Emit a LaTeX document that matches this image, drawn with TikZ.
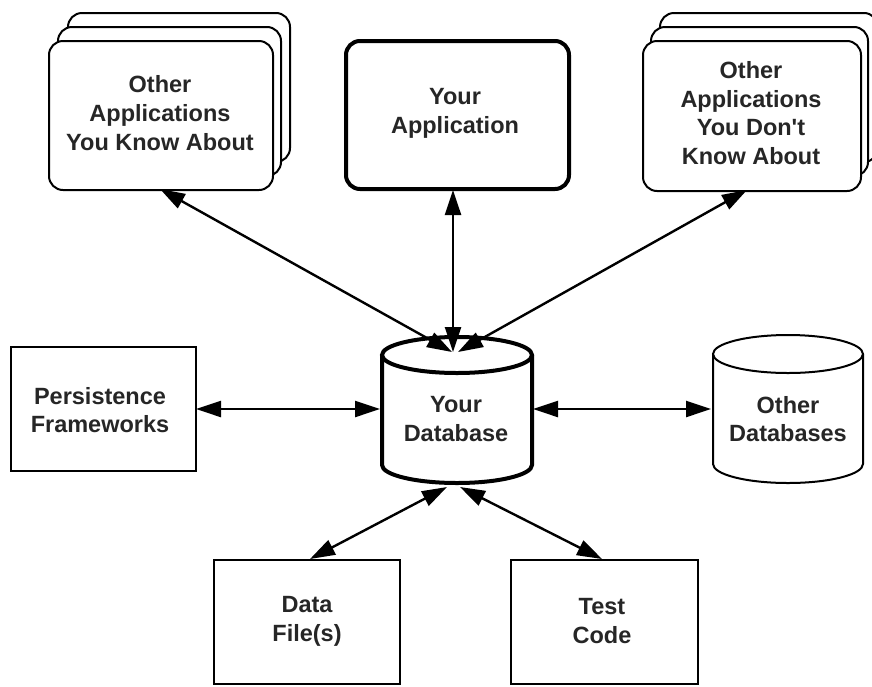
\documentclass[tikz,border=0pt]{standalone}
\usepackage{fontspec}
\setmainfont{Liberation Sans}
\usetikzlibrary{arrows.meta}
\begin{document}
\begin{tikzpicture}[x=1pt,y=-1pt,
  txt/.style={font=\fontsize{23.5}{28.7}\selectfont\bfseries, align=center, text=black!85},
  appbox/.style={draw, line width=2pt, rounded corners=14pt, fill=white},
  plainbox/.style={draw, line width=2pt, fill=white},
  arr/.style={line width=2.4pt, {Triangle[length=25pt,width=16pt]}-{Triangle[length=25pt,width=16pt]}}
]
\useasboundingbox (0,0) rectangle (872,686);

% left stacked applications
\draw[appbox] (68,13) rectangle (290,162);
\draw[appbox] (58,27) rectangle (281,176);
\node[appbox, minimum width=224pt, minimum height=149pt, anchor=north west] (la) at (48,40) {};
\node[txt] (lat) at (160,113) {Other\\Applications\\You Know About};

% your application
\node[draw, line width=4pt, rounded corners=14pt, minimum width=223pt, minimum height=148pt, anchor=north west] (ya) at (344,39) {};
\node[txt] (yat) at (455,113) {Your\\Application};

% right stacked applications
\draw[appbox] (660,13) rectangle (878,162);
\draw[appbox] (651,27) rectangle (868,176);
\node[appbox, minimum width=218pt, minimum height=150pt, anchor=north west] (ra) at (642,40) {};
\node[txt] (rat) at (751,113) {Other\\Applications\\You Don\textquotesingle t\\Know About};

% persistence frameworks
\node[plainbox, minimum width=185pt, minimum height=124pt, anchor=north west] (pf) at (10,346) {};
\node[txt] (pft) at (100,410) {Persistence\\Frameworks};

% data files, test code
\node[plainbox, minimum width=186pt, minimum height=124pt, anchor=north west] (df) at (213,559) {};
\node[txt] (dft) at (307,621) {Data\\File(s)};
\node[plainbox, minimum width=187pt, minimum height=124pt, anchor=north west] (tc) at (510,559) {};
\node[txt] (tct) at (602,621) {Test\\Code};

% your database cylinder
\draw[line width=4pt, fill=white] (382,355) -- (382,465) arc[start angle=180, end angle=360, x radius=75, y radius=-18] -- (532,355);
\draw[line width=4pt, fill=white] (457,355) ellipse [x radius=75, y radius=18];
\node[txt] (db) at (456,419) {Your\\Database};

% other databases cylinder
\draw[line width=2pt, fill=white] (713,354) -- (713,464) arc[start angle=180, end angle=360, x radius=75, y radius=-19] -- (863,354);
\draw[line width=2pt, fill=white] (788,354) ellipse [x radius=75, y radius=19];
\node[txt] (odb) at (788,419) {Other\\Databases};

% connector ends
\coordinate (laB) at (160,189);
\coordinate (yaB) at (453,190);
\coordinate (raB) at (747,190);
\coordinate (dbT1) at (452,352);
\coordinate (dbT2) at (453,352);
\coordinate (dbT3) at (458,352);
\coordinate (pfR) at (196,409);
\coordinate (dbL) at (380,409);
\coordinate (dbR) at (533,409);
\coordinate (odbL) at (711,409);
\coordinate (dbB1) at (447,487);
\coordinate (dbB2) at (460,487);
\coordinate (dfT) at (310,559);
\coordinate (tcT) at (602,559);

\draw[arr] (laB) -- (dbT1);
\draw[arr] (yaB) -- (dbT2);
\draw[arr] (raB) -- (dbT3);
\draw[arr] (pfR) -- (dbL);
\draw[arr] (dbR) -- (odbL);
\draw[arr] (dbB1) -- (dfT);
\draw[arr] (dbB2) -- (tcT);
\end{tikzpicture}
\end{document}
